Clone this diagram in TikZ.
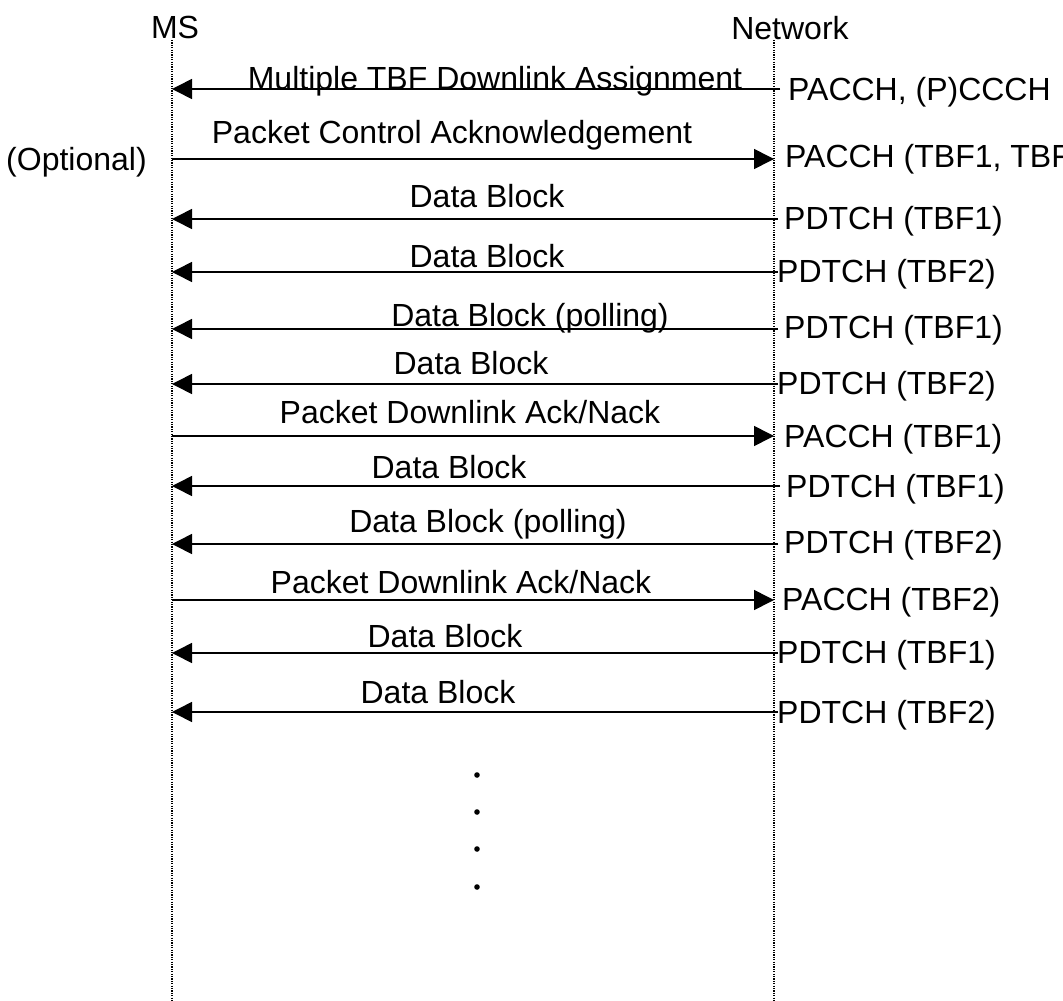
\documentclass[tikz,border=0pt]{standalone}
\usepackage{fontspec}
\setmainfont{Liberation Sans}
\usetikzlibrary{arrows.meta}
\begin{document}
\begin{tikzpicture}[x=1pt,y=-1pt,
  lifeline/.style={line width=1.2pt, dash pattern=on 1.2pt off 1.2pt},
  msg/.style={line width=1.6pt,-{Triangle[length=20pt,width=20pt]}},
  lbl/.style={font=\fontsize{32}{38}\selectfont, inner sep=0pt, anchor=base},
  chan/.style={font=\fontsize{32}{38}\selectfont, inner sep=0pt, anchor=base west},
  dotmark/.style={fill=black}]
\useasboundingbox (0,0) rectangle (1063,1001);
\clip (0,0) rectangle (1063,1001);

% headers
\node[lbl] (ms) at (175,38) {MS};
\node[lbl] (nw) at (790,39) {Network};
\coordinate (msTop) at (172,40);
\coordinate (msBot) at (172,1001);
\coordinate (nwTop) at (774,40);
\coordinate (nwBot) at (774,1001);
\draw[lifeline] (msTop) -- (msBot);
\draw[lifeline] (nwTop) -- (nwBot);

% message end points
\coordinate (m1) at (172,89);   \coordinate (n1) at (780,89);
\coordinate (m2) at (172,159);  \coordinate (n2) at (774,159);
\coordinate (m3) at (172,219);  \coordinate (n3) at (778,219);
\coordinate (m4) at (172,272);  \coordinate (n4) at (778,272);
\coordinate (m5) at (172,329);  \coordinate (n5) at (778,329);
\coordinate (m6) at (172,384);  \coordinate (n6) at (778,384);
\coordinate (m7) at (172,436);  \coordinate (n7) at (774,436);
\coordinate (m8) at (172,486);  \coordinate (n8) at (780,486);
\coordinate (m9) at (172,544);  \coordinate (n9) at (778,544);
\coordinate (m10) at (172,600); \coordinate (n10) at (774,600);
\coordinate (m11) at (172,653); \coordinate (n11) at (778,653);
\coordinate (m12) at (172,712); \coordinate (n12) at (778,712);

% arrows
\draw[msg] (n1) -- (m1);
\draw[msg] (m2) -- (n2);
\draw[msg] (n3) -- (m3);
\draw[msg] (n4) -- (m4);
\draw[msg] (n5) -- (m5);
\draw[msg] (n6) -- (m6);
\draw[msg] (m7) -- (n7);
\draw[msg] (n8) -- (m8);
\draw[msg] (n9) -- (m9);
\draw[msg] (m10) -- (n10);
\draw[msg] (n11) -- (m11);
\draw[msg] (n12) -- (m12);

% message labels
\node[lbl] (t1) at (495,89) {Multiple TBF Downlink Assignment};
\node[lbl] (t2) at (452,143) {Packet Control Acknowledgement};
\node[lbl] (t3) at (487,207) {Data Block};
\node[lbl] (t4) at (487,267) {Data Block};
\node[lbl] (t5) at (530,326) {Data Block (polling)};
\node[lbl] (t6) at (471,374) {Data Block};
\node[lbl] (t7) at (470,423) {Packet Downlink Ack/Nack};
\node[lbl] (t8) at (449,478) {Data Block};
\node[lbl] (t9) at (488,532) {Data Block (polling)};
\node[lbl] (t10) at (461,593) {Packet Downlink Ack/Nack};
\node[lbl] (t11) at (445,647) {Data Block};
\node[lbl] (t12) at (438,703) {Data Block};

% channel labels
\node[chan] (c1) at (788,100) {PACCH, (P)CCCH};
\node[chan] (c2) at (785,167) {PACCH (TBF1, TBF2)};
\node[chan] (c3) at (784,229) {PDTCH (TBF1)};
\node[chan] (c4) at (777,282) {PDTCH (TBF2)};
\node[chan] (c5) at (784,338) {PDTCH (TBF1)};
\node[chan] (c6) at (777,394) {PDTCH (TBF2)};
\node[chan] (c7) at (784,447) {PACCH (TBF1)};
\node[chan] (c8) at (786,497) {PDTCH (TBF1)};
\node[chan] (c9) at (784,553) {PDTCH (TBF2)};
\node[chan] (c10) at (782,610) {PACCH (TBF2)};
\node[chan] (c11) at (777,663) {PDTCH (TBF1)};
\node[chan] (c12) at (777,723) {PDTCH (TBF2)};

% optional
\node[chan] (opt) at (6,170) {(Optional)};

% continuation dots
\fill[dotmark] (477,775) circle (2.8);
\fill[dotmark] (477,812) circle (2.8);
\fill[dotmark] (477,849) circle (2.8);
\fill[dotmark] (477,887) circle (2.8);
\end{tikzpicture}
\end{document}
